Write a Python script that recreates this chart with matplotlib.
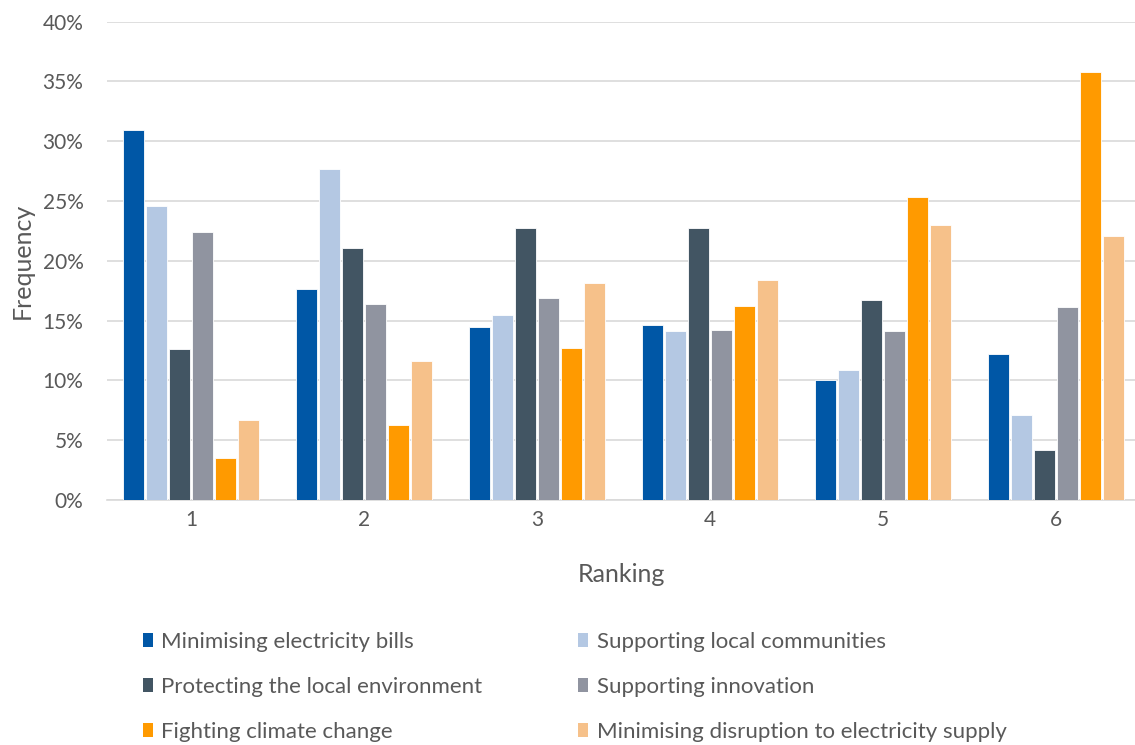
import numpy as np
import matplotlib
matplotlib.use("Agg")
import matplotlib.pyplot as plt
from matplotlib.ticker import PercentFormatter
from matplotlib.patches import Patch

plt.rcParams['font.family'] = ['Lato', 'DejaVu Sans']

# Data (percent of respondents)
rankings = ['1', '2', '3', '4', '5', '6']
series_names = [
    'Minimising electricity bills',
    'Supporting local communities',
    'Protecting the local environment',
    'Supporting innovation',
    'Fighting climate change',
    'Minimising disruption to electricity supply',
]
bills = [30.9, 17.6, 14.5, 14.6, 10.0, 12.2]
communities = [24.6, 27.7, 15.5, 14.1, 10.9, 7.1]
environment = [12.6, 21.1, 22.7, 22.7, 16.7, 4.2]
innovation = [22.4, 16.4, 16.9, 14.2, 14.1, 16.1]
climate = [3.5, 6.3, 12.7, 16.2, 25.3, 35.8]
disruption = [6.7, 11.6, 18.1, 18.4, 23.0, 22.1]

colors = ['#0057A6', '#B4C8E3', '#425563', '#9094A0', '#FF9A00', '#F6C18A']
text_grey = '#595959'
grid_grey = '#D9D9D9'

values = [bills, communities, environment, innovation, climate, disruption]

fig = plt.figure(figsize=(11.35, 7.45), dpi=100)
ax = fig.add_axes([107 / 1135, 0.329, 1 - 107 / 1135, 0.642])

x = np.arange(1, len(rankings) + 1)
step = 0.133
width = 0.122
handles = []
for i, (name, vals, col) in enumerate(zip(series_names, values, colors)):
    offset = (i - 2.5) * step
    ax.bar(x + offset, vals, width, color=col, edgecolor='white',
           linewidth=0.6, zorder=3, label=name)
    handles.append(Patch(facecolor=col, edgecolor='none', label=name))

ax.set_ylim(0, 40)
ax.set_xlim(0.514, 6.456)
ax.set_yticks(np.arange(0, 41, 5))
ax.yaxis.set_major_formatter(PercentFormatter(decimals=0))
ax.set_xticks(x)
ax.set_xticklabels(rankings)

ax.grid(axis='y', color=grid_grey, linewidth=1.2, zorder=0)
for side in ['top', 'right', 'left']:
    ax.spines[side].set_visible(False)
ax.spines['bottom'].set_color(grid_grey)
ax.spines['bottom'].set_linewidth(1.2)
ax.tick_params(axis='both', length=0, labelsize=15, colors=text_grey)
ax.tick_params(axis='y', pad=17)
ax.tick_params(axis='x', pad=7)

ax.set_xlabel('Ranking', fontsize=18, color=text_grey, labelpad=24)
ax.set_ylabel('Frequency', fontsize=18, color=text_grey)
ax.yaxis.set_label_coords(-0.071, 0.5)

# legend: two columns, row-wise order like the original
order = [0, 2, 4, 1, 3, 5]
leg = fig.legend([handles[i] for i in order], [series_names[i] for i in order],
                 ncol=2, loc='upper left', bbox_to_anchor=(0.108, 0.179),
                 frameon=False, fontsize=16, handlelength=0.45,
                 handleheight=0.6, handletextpad=0.4, columnspacing=4.3,
                 labelspacing=1.13, labelcolor=text_grey)

fig.savefig('out.png', dpi=100)
